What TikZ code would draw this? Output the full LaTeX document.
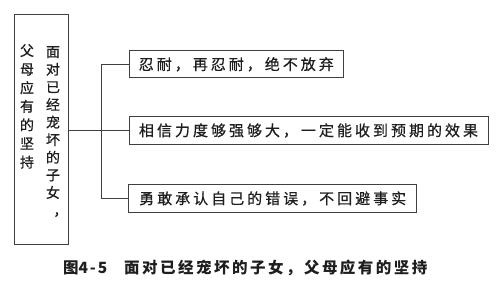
\documentclass[tikz,border=0pt]{standalone}
\usepackage{fontspec}
\newfontfamily\cjkcol[FakeBold=0.6]{Noto Sans CJK SC}
\newfontfamily\cjkbox[LetterSpace=20,FakeBold=0.6]{Noto Sans CJK SC}
\newfontfamily\cjkcap[LetterSpace=16]{Noto Sans CJK SC}
\newfontfamily\cjkcapnum[LetterSpace=12]{Noto Sans CJK SC}
\definecolor{linegray}{HTML}{404040}
\definecolor{inkgray}{HTML}{1E1E1E}
\tikzset{
  conn/.style={draw=linegray, line width=0.8pt},
  leftbox/.style={draw=linegray, line width=0.8pt, inner sep=0pt},
  coltext/.style={inner sep=0pt, align=center, text=inkgray, text width=15pt},
  itembox/.style={draw=linegray, line width=0.8pt, minimum height=28pt, inner sep=0pt,
    text=inkgray, font=\cjkbox\fontsize{15}{16}\selectfont},
  captext/.style={inner sep=0pt, anchor=west, text=inkgray,
    font=\cjkcap\bfseries\fontsize{15.5}{16}\selectfont}
}
\begin{document}
\begin{tikzpicture}[x=1pt,y=-1pt]
\useasboundingbox[fill=white] (0,0) rectangle (500,306);
% left box
\node[leftbox, minimum width=54pt, minimum height=230pt] (L) at (41,129) {};
\node[coltext, anchor=north, font=\cjkcol\fontsize{14}{17.6}\selectfont] (c2) at (53,46)
  {面\\对\\已\\经\\宠\\坏\\的\\子\\女\\\hbox{\kern8pt ，}};
\node[coltext, anchor=north, font=\cjkcol\fontsize{14}{18.6}\selectfont] (c1) at (27,44)
  {父\\母\\应\\有\\的\\坚\\持};
% item boxes
\node[itembox, minimum width=214pt, minimum height=27pt] (b1) at (236.3,64.3) {忍耐，再忍耐，绝不放弃};
\node[itembox, minimum width=359pt] (b2) at (308.5,130.5) {相信力度够强够大，一定能收到预期的效果};
\node[itembox, minimum width=288pt] (b3) at (272.7,198.5) {勇敢承认自己的错误，不回避事实};
% connectors
\coordinate (bus) at (101,0);
\draw[conn] (L.east |- b2.west) -- (b2.west);
\draw[conn] (b1.west) -- (bus |- b1.west) -- (bus |- b3.west) -- (b3.west);
% caption
\node[captext] (cap) at (63,268) {图{\cjkcapnum 4-5}\hspace{17pt}面对已经宠坏的子女，父母应有的坚持};
\end{tikzpicture}
\end{document}
